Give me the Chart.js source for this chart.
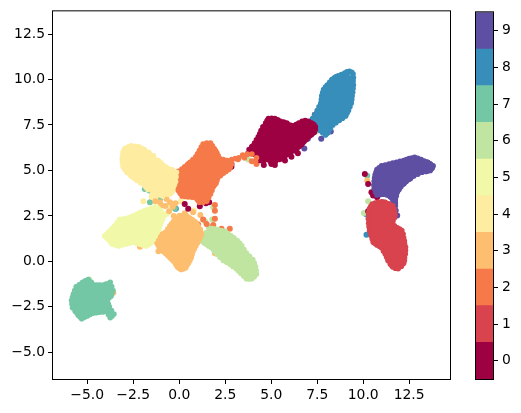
<!DOCTYPE html>
<html>
<head>
<meta charset="utf-8">
<style>
  body { margin: 0; background: #fff; }
  canvas { position: absolute; top: 0; }
</style>
<script src="https://cdn.jsdelivr.net/npm/chart.js@4"></script>
</head>
<body>
<canvas id="scatter" width="521" height="413" style="left:0"></canvas>
<canvas id="colorbar" width="81" height="413" style="left:440px"></canvas>
<script>
const labels = [0, 1, 2, 3, 4, 5, 6, 7, 8, 9];
const colors = ["#9e0142", "#d8434e", "#f67a49", "#fdbf6f", "#feeda1", "#f1f9a9", "#bfe5a0", "#74c7a5", "#378ebb", "#5e4fa2"];
const xTicks = [-5, -2.5, 0, 2.5, 5, 7.5, 10, 12.5];
const yTicks = [-5, -2.5, 0, 2.5, 5, 7.5, 10, 12.5];

// points along the rim of each blob
const edge0 = [[4.7,7.6],[4.85,7.85],[5.2,7.85],[5.5,7.7],[5.85,7.6],[6.2,7.45],[6.5,7.6],[6.85,7.75],[7.2,7.6],[7.4,7.4],[7.35,7.1],[7.1,6.95],[6.9,6.7],[6.65,6.45],[6.4,6.2],[6.05,6],[5.8,5.85],[5.45,5.6],[5,5.35],[5,5.7],[4.6,5.55],[4.4,5.55],[4.05,5.9],[3.8,6.15],[4.1,6.5],[4.3,6.85],[4.45,7.2]];
const edge1 = [[10.5,3.15],[10.8,3.25],[11.2,3.25],[11.6,3.05],[11.7,2.7],[11.7,2.4],[11.55,2.05],[11.85,1.85],[12.1,1.7],[12.2,1.3],[12.25,0.95],[12.3,0.6],[12.25,0.2],[12.2,-0.1],[11.9,-0.4],[11.6,-0.3],[11.35,0.05],[11.2,0.4],[11,0.75],[10.75,0.9],[10.55,1.05],[10.45,1.4],[10.35,1.7],[10.3,2.1],[10.3,2.6],[10.35,2.9]];
const edge2 = [[1.3,6.45],[1.7,6.5],[1.9,6.2],[2.05,5.95],[2.2,5.65],[2.6,5.55],[2.85,5.35],[2.7,5.05],[2.4,4.85],[2.1,4.6],[2,4.3],[1.85,4.1],[1.7,3.7],[1.5,3.3],[1.1,3.25],[0.9,3.5],[0.5,3.55],[0.15,3.6],[-0.05,3.9],[-0.3,4.15],[-0.5,4.2],[-0.2,4.5],[-0.05,4.95],[0.3,5.2],[0.6,5.45],[0.9,5.75],[1.1,6.1],[2.85,5.6],[3.05,5.65],[3.25,5.7],[3.45,5.85],[3.7,5.9],[3.95,5.9],[4.15,5.5],[4.2,5.7],[3.55,5.7],[3.2,5.6]];
const edge3 = [[-1.3,1.15],[-1.05,1.45],[-0.75,1.6],[-0.5,1.95],[-0.3,2.2],[0,2.5],[0.4,2.5],[0.7,2.3],[0.95,2.1],[1.15,1.75],[1.2,1.45],[1.05,1.15],[0.9,0.85],[0.75,0.55],[0.65,0.2],[0.5,-0.1],[0.35,-0.35],[0.1,-0.45],[-0.1,-0.3],[-0.3,0],[-0.5,0.2],[-0.75,0.45],[-1,0.65],[-1.15,0.9]];
const edge4 = [[-2.6,6.35],[-2.95,6.2],[-3.05,6],[-3.1,5.6],[-3.05,5.2],[-2.85,4.9],[-2.5,4.65],[-2.3,4.45],[-1.9,4.2],[-1.7,3.95],[-1.2,3.7],[-0.9,3.6],[-0.5,3.9],[-0.2,4.4],[-0.15,4.9],[-0.6,5.1],[-0.9,5.3],[-1.4,5.8],[-1.9,6.15],[-2.2,6.3]];
const edge5 = [[-4.05,1.4],[-3.8,1.65],[-3.5,1.95],[-3.25,2.3],[-2.9,2.35],[-2.5,2.5],[-2.1,2.7],[-1.7,2.85],[-1.3,3],[-1,2.8],[-0.85,2.45],[-1,2.1],[-1.1,1.8],[-1.3,1.4],[-1.55,1],[-1.8,0.85],[-2.15,0.95],[-2.5,1.05],[-2.9,0.95],[-3.3,0.85],[-3.65,0.95],[-3.85,1.2]];
const edge6 = [[1.2,1.35],[1.5,1.6],[1.8,1.8],[2.1,1.75],[2.5,1.65],[2.8,1.4],[3.15,1.15],[3.4,0.85],[3.65,0.45],[4,0.1],[4.15,-0.3],[4.2,-0.7],[3.95,-0.95],[3.65,-0.95],[3.35,-0.65],[3.1,-0.4],[2.75,-0.15],[2.4,0.05],[2.05,0.4],[1.75,0.75],[1.45,0.95],[1.25,1.1]];
const edge7 = [[-4.95,-1],[-5.25,-1.15],[-5.6,-1.4],[-5.75,-1.8],[-5.85,-2.15],[-5.8,-2.55],[-5.5,-2.95],[-5.3,-3.15],[-5,-3],[-4.7,-2.85],[-4.35,-2.8],[-3.95,-2.75],[-3.75,-3.1],[-3.55,-2.9],[-3.8,-2.5],[-3.95,-2.15],[-3.7,-1.9],[-3.6,-1.6],[-3.75,-1.15],[-4,-1.35],[-4.3,-1.3],[-4.6,-1.3]];
const edge8 = [[9,10.35],[9.25,10.45],[9.45,10.3],[9.45,9.9],[9.45,9.5],[9.4,9.1],[9.35,8.7],[9.2,8.3],[9.05,8],[8.7,7.75],[8.35,7.5],[8.1,7.1],[7.95,6.95],[7.65,7.2],[7.3,7.6],[7.25,7.85],[7.5,8.3],[7.7,8.7],[7.75,9.1],[7.85,9.45],[8.05,9.7],[8.3,10],[8.65,10.2]];
const edge9 = [[10.65,4.75],[10.75,5.05],[11,5.25],[11.4,5.35],[11.8,5.45],[12.2,5.55],[12.5,5.65],[12.8,5.72],[13.15,5.6],[13.5,5.45],[13.8,5.25],[13.65,5],[13.2,4.9],[12.75,4.7],[12.35,4.4],[12.05,4.1],[11.85,3.8],[11.75,3.4],[11.75,3.05],[11.5,3.6],[11.1,3.7],[10.75,3.65],[10.6,4],[10.6,4.4]];

// more rim points read between the first ones
const fine0 = [[4.78,7.75],[5.02,7.87],[5.35,7.78],[5.68,7.66],[6.02,7.5],[6.35,7.52],[6.68,7.7],[7.03,7.7],[7.32,7.52],[7.4,7.25],[7.22,7.02],[7,6.82],[6.78,6.58],[6.52,6.32],[6.22,6.08],[5.92,5.92],[5.62,5.7],[5.22,5.5],[4.95,5.5],[4.8,5.6],[4.5,5.55],[4.22,5.72],[3.92,6.02],[3.95,6.32],[4.2,6.68],[4.38,7.02],[4.55,7.4]];
const fine1 = [[10.65,3.2],[11,3.27],[11.4,3.17],[11.67,2.88],[11.72,2.55],[11.62,2.22],[11.7,1.95],[11.98,1.78],[12.17,1.5],[12.24,1.12],[12.3,0.78],[12.29,0.4],[12.24,0.05],[12.08,-0.27],[11.75,-0.38],[11.47,-0.13],[11.28,0.22],[11.1,0.57],[10.88,0.83],[10.65,0.98],[10.5,1.22],[10.4,1.55],[10.32,1.9],[10.28,2.35],[10.32,2.75],[10.42,3.03]];
const fine2 = [[1.5,6.5],[1.8,6.35],[1.98,6.08],[2.12,5.8],[2.4,5.6],[2.75,5.45],[2.78,5.2],[2.55,4.95],[2.25,4.72],[2.05,4.45],[1.92,4.2],[1.78,3.9],[1.6,3.5],[1.3,3.25],[1,3.37],[0.7,3.52],[0.32,3.57],[0.05,3.75],[-0.18,4.03],[-0.02,4.72],[0.15,5.08],[0.45,5.33],[0.75,5.6],[1,5.92],[1.2,6.28]];
const fine3 = [[-1.18,1.3],[-0.9,1.52],[-0.62,1.78],[-0.4,2.08],[-0.15,2.35],[0.2,2.52],[0.55,2.4],[0.82,2.2],[1.05,1.92],[1.18,1.6],[1.13,1.3],[0.98,1],[0.82,0.7],[0.7,0.38],[0.58,0.05],[0.42,-0.22],[0.22,-0.42],[0,-0.38],[-0.2,-0.15],[-0.4,0.1],[-0.62,0.32],[-0.88,0.55],[-1.08,0.78],[-1.22,1.02]];
const fine4 = [[-2.78,6.28],[-3,6.1],[-3.08,5.8],[-3.08,5.4],[-2.95,5.05],[-2.68,4.78],[-2.4,4.55],[-2.1,4.32],[-1.8,4.08],[-1.45,3.82],[-1.05,3.65],[-0.7,3.75],[-0.35,4.15],[-0.17,4.65],[-0.38,5],[-0.75,5.2],[-1.15,5.55],[-1.65,5.98],[-2.05,6.22],[-2.4,6.33]];
const fine5 = [[-3.92,1.52],[-3.65,1.8],[-3.38,2.12],[-3.08,2.33],[-2.7,2.42],[-2.3,2.6],[-1.9,2.78],[-1.5,2.92],[-1.15,2.9],[-0.92,2.62],[-0.92,2.28],[-1.05,1.95],[-1.2,1.6],[-1.42,1.2],[-1.68,0.92],[-1.98,0.9],[-2.32,1],[-2.7,1],[-3.1,0.9],[-3.48,0.9],[-3.75,1.08],[-3.95,1.3]];
const fine6 = [[1.35,1.48],[1.65,1.7],[1.95,1.78],[2.3,1.7],[2.65,1.52],[2.98,1.28],[3.28,1],[3.52,0.65],[3.82,0.28],[4.08,-0.1],[4.18,-0.5],[4.08,-0.85],[3.8,-0.97],[3.5,-0.8],[3.22,-0.52],[2.92,-0.28],[2.58,-0.05],[2.22,0.22],[1.9,0.58],[1.6,0.85],[1.35,1.02],[1.2,1.22]];
const fine7 = [[-5.1,-1.07],[-5.42,-1.27],[-5.68,-1.6],[-5.8,-1.98],[-5.83,-2.35],[-5.65,-2.75],[-5.4,-3.05],[-5.15,-3.08],[-4.85,-2.92],[-4.52,-2.82],[-4.15,-2.78],[-3.85,-2.92],[-3.65,-3],[-3.68,-2.7],[-3.88,-2.32],[-3.82,-2.02],[-3.65,-1.75],[-3.67,-1.38],[-3.88,-1.25],[-4.15,-1.32],[-4.45,-1.3],[-4.78,-1.15]];
const fine8 = [[9.12,10.42],[9.38,10.4],[9.47,10.1],[9.47,9.7],[9.43,9.3],[9.38,8.9],[9.28,8.5],[9.12,8.15],[8.88,7.87],[8.52,7.62],[8.22,7.3],[8.02,7.02],[7.8,7.07],[7.48,7.4],[7.27,7.72],[7.38,8.08],[7.6,8.5],[7.73,8.9],[7.8,9.28],[7.95,9.58],[8.18,9.85],[8.48,10.1],[8.82,10.28]];
const fine9 = [[10.7,4.9],[10.87,5.15],[11.2,5.3],[11.6,5.4],[12,5.5],[12.35,5.6],[12.65,5.68],[12.97,5.67],[13.32,5.52],[13.65,5.35],[13.75,5.12],[13.42,4.95],[12.98,4.8],[12.55,4.55],[12.2,4.25],[11.95,3.95],[11.8,3.6],[11.75,3.22],[11.62,3.35],[11.3,3.65],[10.92,3.68],[10.67,3.82],[10.58,4.2],[10.62,4.58]];

// a ring just inside each rim
const ring0 = [[4.95,7.5],[5.3,7.55],[5.7,7.35],[6.1,7.15],[6.5,7.3],[6.85,7.45],[7.1,7.3],[7.05,7.1],[6.75,6.85],[6.5,6.55],[6.2,6.3],[5.85,6.1],[5.5,5.9],[5.1,5.65],[4.65,5.8],[4.3,6.05],[4.15,6.2],[4.4,6.5],[4.6,6.85],[4.75,7.2]];
const ring1 = [[10.6,2.9],[11,2.95],[11.35,2.9],[11.4,2.5],[11.3,2.1],[11.55,1.75],[11.85,1.55],[11.95,1.15],[11.95,0.75],[11.95,0.35],[11.9,0],[11.85,-0.15],[11.7,-0.1],[11.55,0.2],[11.4,0.55],[11.15,0.95],[10.8,1.2],[10.7,1.55],[10.6,1.9],[10.6,2.3],[10.6,2.6]];
const ring2 = [[1.45,6.2],[1.6,6.2],[1.7,5.85],[1.9,5.5],[2.35,5.3],[2.55,5.3],[2.2,5.05],[1.85,4.75],[1.7,4.3],[1.5,3.9],[1.3,3.55],[0.9,3.8],[0.45,3.85],[0.2,4.05],[0.05,4.3],[0.2,4.7],[0.45,4.95],[0.85,5.25],[1.1,5.55],[1.3,5.9]];
const ring3 = [[-1,1.15],[-0.6,1.35],[-0.25,1.85],[0.05,2.2],[0.4,2.2],[0.75,1.9],[0.9,1.5],[0.75,1.1],[0.55,0.7],[0.4,0.3],[0.2,-0.15],[0.05,-0.15],[-0.15,0.2],[-0.5,0.5],[-0.85,0.85]];
const ring4 = [[-2.65,6.05],[-2.8,5.7],[-2.8,5.3],[-2.5,4.95],[-2.1,4.65],[-1.65,4.3],[-1.2,4],[-0.85,3.95],[-0.55,4.25],[-0.45,4.7],[-0.85,5],[-1.2,5.3],[-1.55,5.6],[-1.9,5.85],[-2.3,6.05]];
const ring5 = [[-3.7,1.4],[-3.35,1.75],[-3.05,2.05],[-2.6,2.2],[-2.15,2.4],[-1.7,2.55],[-1.3,2.7],[-1.15,2.45],[-1.3,2.05],[-1.4,1.7],[-1.6,1.3],[-1.9,1.15],[-2.3,1.25],[-2.7,1.25],[-3.15,1.15],[-3.55,1.2]];
const ring6 = [[1.5,1.3],[1.85,1.5],[2.3,1.4],[2.7,1.15],[3.05,0.85],[3.3,0.5],[3.6,0.15],[3.85,-0.25],[3.9,-0.65],[3.7,-0.65],[3.35,-0.3],[2.9,0.05],[2.45,0.35],[2.1,0.7],[1.75,1.05]];
const ring7 = [[-4.95,-1.3],[-5.35,-1.5],[-5.5,-1.85],[-5.55,-2.25],[-5.45,-2.65],[-5.15,-2.8],[-4.7,-2.55],[-4.3,-2.5],[-4.05,-2.4],[-4.2,-2],[-3.95,-1.75],[-3.95,-1.45],[-4.3,-1.6],[-4.65,-1.55]];
const ring8 = [[9,10.05],[9.2,9.7],[9.15,9.3],[9.1,8.9],[9,8.5],[8.8,8.15],[8.5,7.95],[8.1,7.65],[7.9,7.3],[7.65,7.6],[7.55,7.95],[7.85,8.35],[8,8.75],[8.05,9.1],[8.2,9.45],[8.5,9.8]];
const ring9 = [[10.95,4.7],[11.1,5],[11.5,5.05],[11.9,5.15],[12.3,5.25],[12.7,5.4],[13.1,5.3],[13.5,5.2],[13.2,5.15],[12.8,5],[12.4,4.75],[12.1,4.45],[11.75,4.1],[11.6,3.7],[11.4,3.95],[11,3.95],[10.9,4.3]];

// points filling the inside of each blob
const core0 = [[5,7.35],[5.5,7.3],[6,7.2],[6.5,7.25],[7,7.3],[4.8,6.95],[5.3,6.95],[5.8,6.95],[6.3,6.95],[6.7,6.95],[4.6,6.55],[5.1,6.55],[5.6,6.55],[6.1,6.5],[4.3,6.15],[4.8,6.15],[5.3,6.15],[5.8,6.2],[4.6,5.85],[5.1,5.8],[5.5,5.9]];
const core1 = [[10.7,2.85],[11.2,2.85],[10.7,2.4],[11.2,2.4],[10.7,1.95],[11.2,1.95],[10.8,1.5],[11.3,1.5],[11.8,1.45],[11.1,1.05],[11.6,1.05],[11.95,1.05],[11.5,0.6],[11.95,0.6],[11.8,0.15]];
const core2 = [[1.5,6],[1.2,5.6],[1.7,5.6],[0.7,5.2],[1.2,5.2],[1.7,5.2],[2.2,5.2],[0.3,4.8],[0.8,4.8],[1.3,4.8],[1.8,4.8],[0.2,4.4],[0.7,4.4],[1.2,4.4],[1.6,4.4],[0.4,4],[0.9,4],[1.4,4],[1.2,3.65]];
const core3 = [[0,2.1],[0.5,2.1],[-0.3,1.7],[0.2,1.7],[0.7,1.7],[-0.7,1.25],[-0.2,1.25],[0.3,1.25],[0.8,1.25],[-0.5,0.8],[0,0.8],[0.5,0.8],[-0.2,0.4],[0.3,0.4],[0.15,0]];
const core4 = [[-2.7,5.8],[-2.2,5.8],[-1.8,5.75],[-2.7,5.3],[-2.2,5.3],[-1.7,5.3],[-1.2,5.25],[-2.4,4.85],[-1.9,4.8],[-1.4,4.8],[-0.9,4.75],[-0.5,4.7],[-1.7,4.4],[-1.4,4.3],[-0.9,4.3],[-0.5,4.3],[-1,3.95],[-0.6,3.95]];
const core5 = [[-1.4,2.5],[-2.6,2.1],[-2.1,2.2],[-1.6,2.2],[-1.25,2.2],[-3.5,1.4],[-3.3,1.6],[-2.8,1.7],[-2.3,1.7],[-1.8,1.7],[-1.5,1.75],[-3.4,1.3],[-2.9,1.3],[-2.4,1.3],[-1.9,1.25]];
const core6 = [[1.8,1.25],[2.3,1.25],[2.7,1.15],[2.1,0.85],[2.6,0.85],[3,0.8],[2.6,0.45],[3.1,0.45],[2.9,0.1],[3.4,0.1],[3.4,-0.3],[3.8,-0.3],[3.8,-0.65]];
const core7 = [[-5.1,-1.55],[-4.6,-1.6],[-4.1,-1.65],[-5.3,-2],[-4.8,-2],[-4.3,-2],[-5.3,-2.45],[-4.8,-2.45],[-4.3,-2.45],[-5.2,-2.7]];
const core8 = [[8.6,9.9],[9.05,9.9],[8.2,9.4],[8.7,9.4],[9.1,9.4],[8.1,8.9],[8.6,8.9],[9,8.9],[7.9,8.4],[8.4,8.4],[8.9,8.4],[7.7,7.95],[8.2,7.95],[8.6,8.05],[7.8,7.5]];
const core9 = [[11.2,5],[11.7,5],[12.2,5.05],[12.7,5.2],[13.1,5.25],[13.4,5.2],[11,4.6],[11.5,4.6],[12,4.6],[12.4,4.75],[11,4.2],[11.5,4.2],[11.8,4.3],[11.1,3.95],[11.5,3.95]];

// stray points lying away from their own blob
const stray0 = [[-1,4.57],[-0.72,4.48],[0.3,3.16],[0.49,2.89],[1.12,3.03],[1.45,3.2],[1.63,3.25],[2.84,5.35],[3.75,5.93],[2.84,5.2],[7.37,8.06],[10.09,4.8],[10.27,4.26],[10.69,4.26],[10.45,3.8],[10.54,3.62],[10.76,3.53],[10.27,2.76],[10.72,2.52],[4.6,5.3],[5.2,5.3],[5.75,5.55],[6.1,5.75],[6.45,5.95]];
const stray1 = [[7.58,7.4]];
const stray2 = [[1.94,2.79],[1.94,2.34],[1.3,2.3],[1.03,2.03],[1.49,2.05],[1.85,2],[2.3,1.8],[2.75,1.8],[-0.5,4.07],[-0.23,4.35],[0.45,1.57],[1.94,3.1],[3.95,5.5],[4.2,5.35]];
const stray3 = [[-0.69,3.43],[-0.5,3.25],[-0.96,3.07],[0.03,2.5],[-2.13,0.8],[-1.13,0.56],[1.94,0.45],[10.22,4.44],[-3.91,-1.44],[-3.58,-1.73],[-3.76,-1.77],[-0.2,3.2],[0.3,2.65],[0.75,2.7],[1.15,2.55],[-0.35,3],[-0.75,3.05],[-1.3,3.3],[-1.05,3.25],[-0.3,2.5],[-0.55,2.75]];
const stray4 = [[-0.38,5.02],[-1.95,3.3],[-1.05,3.98],[-0.6,3.07],[-1.4,3.6],[-1.3,3.45],[-1.5,3.55],[0.1,3.3],[0.8,2.8]];
const stray5 = [[0.49,3.53],[-0.69,2.6]];
const stray6 = [[1.85,2.97],[1.12,1.7],[1.21,1.23],[1.4,2.2],[1.8,2.3],[1.6,1.9],[3.75,5.6],[7.43,7.14],[10.27,3.3],[10.04,2.66],[-4.9,-1]];
const stray7 = [[-1.87,3.98],[-1.63,3.89],[-1.59,3.25],[-1.05,3.43],[0.09,3.89],[-0.23,2.89],[-1.19,1.73],[5.84,5.86],[10.22,4.71]];
const stray8 = [[-0.18,2.89],[6.87,7.23],[7.2,7.23],[10.15,2.6],[10.18,1.46],[11.09,3.25]];
const stray9 = [[6.99,6.74],[7.72,6.74],[6.8,6.2],[7.92,7.14],[8.24,7.14],[11.85,2.52],[11.77,2.8]];

const edges = [edge0, edge1, edge2, edge3, edge4, edge5, edge6, edge7, edge8, edge9];
const fines = [fine0, fine1, fine2, fine3, fine4, fine5, fine6, fine7, fine8, fine9];
const rings = [ring0, ring1, ring2, ring3, ring4, ring5, ring6, ring7, ring8, ring9];
const cores = [core0, core1, core2, core3, core4, core5, core6, core7, core8, core9];
const strays = [stray0, stray1, stray2, stray3, stray4, stray5, stray6, stray7, stray8, stray9];
const drawOrder = [4, 5, 3, 6, 2, 0, 8, 1, 9, 7];

const toPoints = (list) => list.map(([x, y]) => ({ x, y }));
const fmt = (v) => v.toFixed(1).replace("-", "\u2212");
const FONT = { family: "'DejaVu Sans'", size: 13.9 };

// top and right spines, matplotlib style box
const boxPlugin = {
  id: "box",
  afterDraw(chart) {
    const { ctx, chartArea: a } = chart;
    ctx.save();
    ctx.strokeStyle = "#000";
    ctx.lineWidth = 1;
    ctx.strokeRect(a.left - 0.5, a.top - 0.5, a.right - a.left + 1, a.bottom - a.top + 1);
    ctx.restore();
  }
};

const datasets = [];
drawOrder.forEach((i) => {
  datasets.push({ data: toPoints(cores[i]), backgroundColor: colors[i], pointRadius: 7.5, pointBorderWidth: 0 });
  datasets.push({ data: toPoints(rings[i]), backgroundColor: colors[i], pointRadius: 6.5, pointBorderWidth: 0 });
  datasets.push({ data: toPoints(edges[i].concat(fines[i])), backgroundColor: colors[i], pointRadius: 2.8, pointBorderWidth: 0 });
});
strays.forEach((list, i) => {
  datasets.push({ data: toPoints(list), backgroundColor: colors[i], pointRadius: 3, pointBorderWidth: 0 });
});

const axis = (min, max, ticks, afterFit) => ({
  type: "linear",
  min,
  max,
  afterBuildTicks(scale) { scale.ticks = ticks.map((value) => ({ value })); },
  afterFit,
  grid: { drawOnChartArea: false, tickLength: 5, tickColor: "#000", tickWidth: 1 },
  border: { display: false },
  ticks: { color: "#000", font: FONT, padding: 3, maxRotation: 0, autoSkip: false, callback: fmt }
});

new Chart(document.getElementById("scatter"), {
  type: "scatter",
  data: { datasets },
  options: {
    responsive: false,
    animation: false,
    events: [],
    layout: { padding: { top: 10, right: 71, bottom: 0, left: 0 } },
    plugins: { legend: { display: false }, tooltip: { enabled: false } },
    scales: {
      x: axis(-6.86, 14.72, xTicks, (s) => { s.height = 34; }),
      y: axis(-6.47, 13.75, yTicks, (s) => { s.width = 53; })
    }
  },
  plugins: [boxPlugin]
});

new Chart(document.getElementById("colorbar"), {
  type: "bar",
  data: {
    labels: [""],
    datasets: labels.map((v, i) => ({
      data: [[v - 0.5, v + 0.5]],
      backgroundColor: colors[i],
      barPercentage: 1,
      categoryPercentage: 1
    }))
  },
  options: {
    responsive: false,
    animation: false,
    events: [],
    layout: { padding: { top: 10, right: 0, bottom: 34, left: 36 } },
    plugins: { legend: { display: false }, tooltip: { enabled: false } },
    scales: {
      x: { display: false, stacked: true },
      y: {
        position: "right",
        min: -0.5,
        max: 9.5,
        afterBuildTicks(scale) { scale.ticks = labels.map((value) => ({ value })); },
        afterFit(s) { s.width = 28; },
        grid: { drawOnChartArea: false, tickLength: 5, tickColor: "#000", tickWidth: 1 },
        border: { display: false },
        ticks: { color: "#000", font: FONT, padding: 4, autoSkip: false }
      }
    }
  },
  plugins: [boxPlugin]
});
</script>
</body>
</html>
